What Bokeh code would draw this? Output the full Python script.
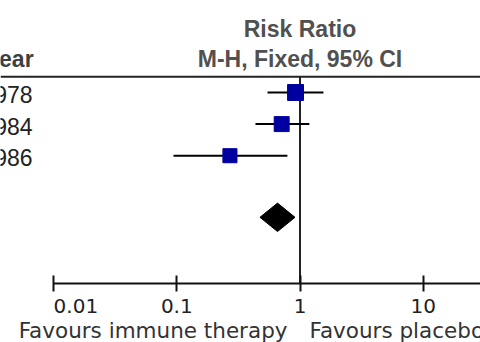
from bokeh.plotting import figure
from bokeh.models import Range1d, FixedTicker, Span
from bokeh.core.properties import value
from bokeh.embed import file_html
from bokeh.resources import INLINE

# ---------------- data ----------------
studies = ["1978", "1984", "1986"]
rr = [0.92, 0.71, 0.27]
ci_low = [0.545, 0.435, 0.094]
ci_high = [1.55, 1.19, 0.79]
weights = [37.6, 33.1, 29.3]
total_rr = [0.657]
total_low = [0.473]
total_high = [0.911]
tick_values = [0.01, 0.1, 1, 10]
tick_labels = ["0.01", "0.1", "1", "10"]
header_top = "Risk Ratio"
header_sub = "M-H, Fixed, 95% CI"
col_header = "Year"
favours_left = "Favours immune therapy"
favours_right = "Favours placebo"

# ---------------- layout ----------------
W, H = 480, 342
ROW_PX = 31.6
ROW0 = 92.0           # y of first study row
DEC_PX = 123.2        # pixels per decade
X1 = 299.5            # x of RR = 1


def row_of(py):
    return (py - ROW0) / ROW_PX


def x_of(px):
    return 10 ** ((px - X1) / DEC_PX)


rows = list(range(len(studies)))
total_row = 3.95
axis_row = row_of(283)

p = figure(width=W, height=H, x_axis_type="log",
           x_range=Range1d(x_of(0), x_of(W)),
           y_range=Range1d(row_of(H), row_of(0)),
           output_backend="svg", toolbar_location=None,
           y_axis_location=None, min_border=0,
           outline_line_color=None, background_fill_color="white",
           border_fill_color="white")
p.xgrid.visible = False
p.ygrid.visible = False

ax = p.xaxis[0]
ax.fixed_location = axis_row
ax.ticker = FixedTicker(ticks=tick_values, minor_ticks=[])
ax.bounds = (tick_values[0], 100)
nbsp = "\u00a0"
overrides = {}
for i, (t, lab) in enumerate(zip(tick_values, tick_labels)):
    overrides[t] = (nbsp * 7 + lab) if i == 0 else lab
ax.major_label_overrides = overrides
ax.axis_line_width = 2
ax.axis_line_color = "#111111"
ax.major_tick_line_width = 2
ax.major_tick_line_color = "#111111"
ax.major_tick_in = 8
ax.major_tick_out = 8
ax.major_label_standoff = 2
ax.major_label_text_font = "DejaVu Sans"
ax.major_label_text_font_size = "20px"
ax.major_label_text_color = "#222222"

# header line
p.add_layout(Span(location=-0.5, dimension="width", line_color="#222222", line_width=2))

# line of no effect
p.segment(x0=[1], y0=[-0.5], x1=[1], y1=[axis_row], line_color="#222222", line_width=2)

# CIs
p.segment(x0=ci_low, y0=rows, x1=ci_high, y1=rows, line_color="black", line_width=2)

# squares
sizes = [2.6 * w ** 0.5 for w in weights]
p.scatter(x=rr, y=rows, marker="square", size=sizes,
          fill_color="#0000A0", line_color="#0000A0")

# diamond
h = 0.45
p.patch(x=[total_low[0], total_rr[0], total_high[0], total_rr[0]],
        y=[total_row, total_row - h, total_row, total_row + h],
        fill_color="black", line_color="black")

font = value("Liberation Sans")
font2 = value("DejaVu Sans")
# headers
p.text(x=[1], y=[-2], text=[header_top], text_font=font, text_font_size="23px",
       text_font_style="bold", text_color="#505050", text_align="center",
       text_baseline="middle")
p.text(x=[1], y=[-1], text=[header_sub], text_font=font, text_font_size="23px",
       text_font_style="bold", text_color="#505050", text_align="center",
       text_baseline="middle", y_offset=-2)
p.text(x=[tick_values[0]], y=[-1], text=[col_header], text_font=font,
       text_font_size="23px", text_font_style="bold", text_color="#404040",
       text_align="right", text_baseline="middle", x_offset=-20, y_offset=-2)
# study labels
p.text(x=[tick_values[0]] * len(studies), y=rows, text=studies, text_font=font,
       text_font_size="23px", text_color="#222222", text_align="right",
       text_baseline="middle", x_offset=-21, y_offset=2)
# favours
fy = row_of(330)
p.text(x=[1], y=[fy], text=[favours_left], text_font=font2, text_font_size="21.5px",
       text_color="#333333", text_align="right", text_baseline="middle", x_offset=-12.5)
p.text(x=[1], y=[fy], text=[favours_right], text_font=font2, text_font_size="21.5px",
       text_color="#333333", text_align="left", text_baseline="middle", x_offset=9.5)

open("out.html", "w").write(file_html(p, INLINE))
